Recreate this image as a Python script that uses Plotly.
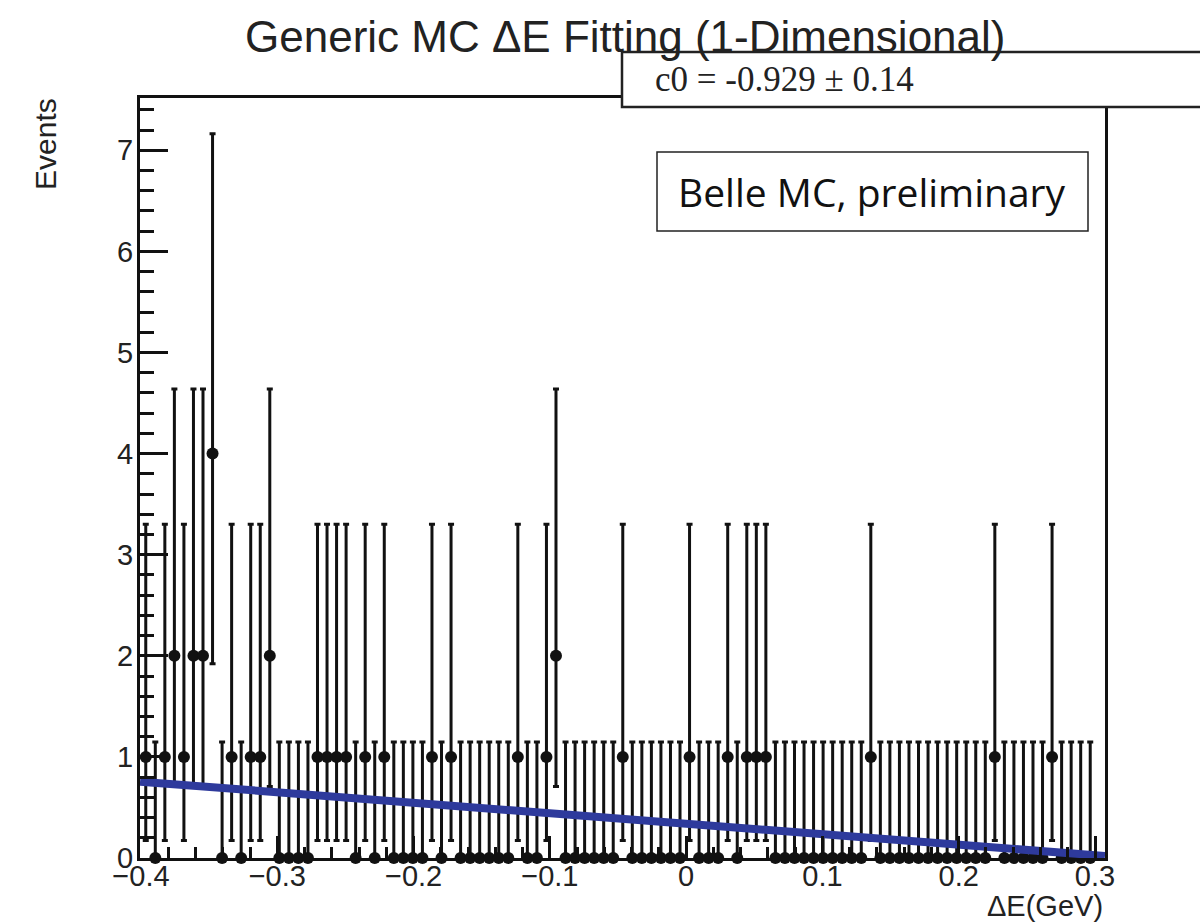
import numpy as np
import plotly.graph_objects as go

# ---------------- data ----------------
bin_lo = -0.4
bin_hi = 0.3
n_bins = 100

counts = [
    1, 0, 1, 2, 1, 2, 2, 4, 0, 1,
    0, 1, 1, 2, 0, 0, 0, 0, 1, 1,
    1, 1, 0, 1, 0, 1, 0, 0, 0, 0,
    1, 0, 1, 0, 0, 0, 0, 0, 0, 1,
    0, 0, 1, 2, 0, 0, 0, 0, 0, 0,
    1, 0, 0, 0, 0, 0, 0, 1, 0, 0,
    0, 1, 0, 1, 1, 1, 0, 0, 0, 0,
    0, 0, 0, 0, 0, 0, 1, 0, 0, 0,
    0, 0, 0, 0, 0, 0, 0, 0, 0, 1,
    0, 0, 0, 0, 0, 1, 0, 0, 0, 0,
]

# Poisson interval bounds (as plotted) for each count
poisson_counts = [0, 1, 2, 4]
poisson_low = [0.0, 0.173, 0.708, 1.922]
poisson_high = [1.147, 3.300, 4.638, 7.163]

# fitted line
fit_x = [-0.4007, 0.3073]
fit_y = [0.755, 0.020]

title_text = "Generic MC \u0394E Fitting (1-Dimensional)"
stat_text = "c0 = -0.929 \u00b1 0.14"
label_text = "Belle MC, preliminary"
x_title = "\u0394E(GeV)"
y_title = "Events"

# ---------------- derived ----------------
width = (bin_hi - bin_lo) / n_bins
centers = [bin_lo + (i + 0.5) * width for i in range(n_bins)]
lo_map = dict(zip(poisson_counts, poisson_low))
hi_map = dict(zip(poisson_counts, poisson_high))
err_plus = [hi_map[c] - c for c in counts]
err_minus = [c - lo_map[c] for c in counts]

# layout geometry (pixels)
W, H = 1200, 922
L, R, T, B = 140, 1105, 98, 858


def px(x):
    return (x - L) / (R - L)


def py(y):
    return (B - y) / (B - T)


fig = go.Figure()

fig.add_trace(go.Scatter(
    x=centers, y=counts, mode="markers",
    marker=dict(color="#111", size=12),
    error_y=dict(type="data", symmetric=False, array=err_plus,
                 arrayminus=err_minus, color="#111", thickness=3, width=3),
    cliponaxis=False, showlegend=False,
))

fig.add_trace(go.Scatter(
    x=fit_x, y=fit_y, mode="lines",
    line=dict(color="#2e3a9c", width=8),
    cliponaxis=True, showlegend=False,
))

axis_font = dict(family="Liberation Sans, Arial", size=29, color="#222")

fig.update_layout(
    width=W, height=H,
    margin=dict(l=L, r=W - R, t=T, b=H - B),
    paper_bgcolor="white", plot_bgcolor="white",
    xaxis=dict(
        range=[-0.40073, 0.30734], tick0=0, dtick=0.1,
        ticks="inside", ticklen=22, tickwidth=3, tickcolor="#111",
        showline=True, linewidth=3, linecolor="#111", mirror=True,
        showgrid=False, zeroline=False, tickfont=axis_font,
        ticklabelstandoff=-10,
        minor=dict(ticks="inside", ticklen=11, tickwidth=2.5, tickcolor="#111",
                   dtick=0.02, tick0=0, showgrid=False),
    ),
    yaxis=dict(
        range=[0, 7.517], tick0=0, dtick=1,
        ticks="inside", ticklen=28, tickwidth=3, tickcolor="#111",
        showline=True, linewidth=3, linecolor="#111", mirror=True,
        showgrid=False, zeroline=False, tickfont=axis_font,
        ticklabelstandoff=-2,
        minor=dict(ticks="inside", ticklen=14, tickwidth=2.5, tickcolor="#111",
                   dtick=0.2, tick0=0, showgrid=False),
    ),
)

shapes = [
    dict(type="rect", xref="paper", yref="paper",
         x0=px(622), x1=px(1215), y0=py(107), y1=py(52),
         line=dict(color="#222", width=2.5), fillcolor="white", layer="above"),
    dict(type="rect", xref="paper", yref="paper",
         x0=px(657), x1=px(1088), y0=py(231), y1=py(152),
         line=dict(color="#222", width=1.5), fillcolor="white", layer="above"),
]
fig.update_layout(shapes=shapes)

annotations = [
    dict(text=title_text, xref="paper", yref="paper", x=px(625), y=py(36),
         xanchor="center", yanchor="middle", showarrow=False,
         font=dict(family="Liberation Sans, Arial", size=44, color="#222")),
    dict(text=stat_text, xref="paper", yref="paper", x=px(653), y=py(79),
         xanchor="left", yanchor="middle", showarrow=False,
         font=dict(family="Liberation Serif, Times New Roman", size=35, color="#222")),
    dict(text=label_text, xref="paper", yref="paper", x=px(872), y=py(191),
         xanchor="center", yanchor="middle", showarrow=False,
         font=dict(family="Open Sans", size=39, color="#111")),
    dict(text=x_title, xref="paper", yref="paper", x=px(1105), y=py(906),
         xanchor="right", yanchor="middle", showarrow=False,
         font=dict(family="Liberation Sans, Arial", size=29, color="#222")),
    dict(text=y_title, xref="paper", yref="paper", x=px(46), y=py(144),
         xanchor="center", yanchor="middle", showarrow=False, textangle=-90,
         font=dict(family="Liberation Sans, Arial", size=30, color="#222")),
]
fig.update_layout(annotations=annotations)

fig.write_html("out.html")
